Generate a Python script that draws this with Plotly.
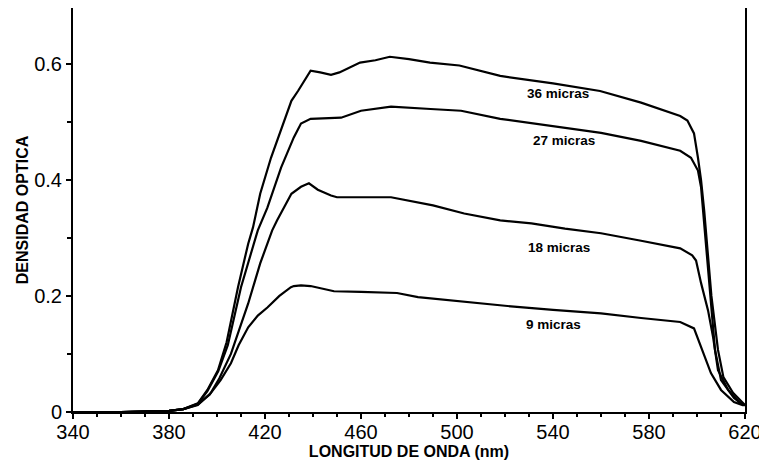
import plotly.graph_objects as go

# 36 micras
wl_36 = [340, 360, 380, 386, 392, 396, 400.4, 404, 408.75, 413, 415, 418, 422.5, 426.7, 431, 433.75,
         439, 443, 447.5, 451, 459.6, 466, 472, 480, 488.75, 501, 518, 540, 559.6, 576.7, 593, 596,
         598.75, 600.4, 601.7, 603, 604.6, 606, 608.75, 611, 615, 619, 620]
od_36 = [0.0, 0.0, 0.002, 0.005, 0.015, 0.038, 0.072, 0.12, 0.215, 0.29, 0.318, 0.376, 0.438, 0.485,
         0.536, 0.553, 0.588, 0.585, 0.581, 0.585, 0.602, 0.606, 0.612, 0.608, 0.602, 0.597, 0.579,
         0.566, 0.553, 0.533, 0.51, 0.502, 0.48, 0.438, 0.399, 0.347, 0.273, 0.2, 0.107, 0.06, 0.033,
         0.015, 0.012]

# 27 micras
wl_27 = [340, 360, 380, 386, 392, 396, 400.5, 404.5, 410, 416, 417, 421, 426.7, 432, 435, 439,
         447.5, 451.7, 460, 472.5, 489, 501.7, 518, 540, 560, 576.7, 593, 597.5, 600.4, 601.7,
         603.5, 605.5, 607.5, 610, 615.4, 619, 620]
od_27 = [0.0, 0.0, 0.002, 0.005, 0.014, 0.036, 0.07, 0.115, 0.215, 0.3, 0.313, 0.352, 0.421, 0.473,
         0.497, 0.505, 0.507, 0.507, 0.519, 0.526, 0.522, 0.519, 0.505, 0.493, 0.481, 0.467, 0.45,
         0.438, 0.416, 0.387, 0.3, 0.2, 0.107, 0.055, 0.024, 0.013, 0.012]

# 18 micras
wl_18 = [340, 360, 380, 386, 392, 397, 401, 405.8, 413, 418, 423, 425, 431, 435, 438.3, 442,
         447.5, 450, 460, 472.5, 490, 503, 518, 531, 545, 560, 576.7, 593, 598, 599.6, 601.7,
         604.6, 606.7, 608.75, 613, 618, 620]
od_18 = [0.0, 0.0, 0.002, 0.005, 0.013, 0.03, 0.058, 0.1, 0.187, 0.256, 0.313, 0.33, 0.376, 0.388,
         0.394, 0.383, 0.373, 0.37, 0.37, 0.37, 0.356, 0.342, 0.33, 0.325, 0.316, 0.308, 0.295,
         0.282, 0.27, 0.261, 0.222, 0.175, 0.129, 0.072, 0.038, 0.015, 0.012]

# 9 micras
wl_9 = [340, 360, 380, 386, 392, 397.5, 401.5, 405.8, 409, 413, 417, 421, 426, 430.8, 432, 435,
        439, 443, 448.75, 460, 475, 483.75, 503, 522.5, 540, 560, 576.7, 593, 598.75, 601.7,
        605.8, 610, 615.4, 619, 620]
od_9 = [0.0, 0.0, 0.002, 0.005, 0.012, 0.033, 0.055, 0.084, 0.115, 0.146, 0.166, 0.18, 0.2, 0.215,
        0.217, 0.218, 0.217, 0.213, 0.208, 0.207, 0.205, 0.198, 0.19, 0.182, 0.176, 0.17, 0.162,
        0.155, 0.144, 0.112, 0.067, 0.038, 0.017, 0.012, 0.012]

series_names = ["36 micras", "27 micras", "18 micras", "9 micras"]
label_x = [542, 544.6, 542.5, 540.4]
label_y = [0.548, 0.468, 0.284, 0.150]

x_ticks = [340, 380, 420, 460, 500, 540, 580, 620]
y_ticks = [0, 0.2, 0.4, 0.6]
y_tick_text = ["0", "0.2", "0.4", "0.6"]

FONT = "Liberation Sans, Arial, Helvetica, sans-serif"

fig = go.Figure()
for wl, od, name in [(wl_36, od_36, series_names[0]), (wl_27, od_27, series_names[1]),
                     (wl_18, od_18, series_names[2]), (wl_9, od_9, series_names[3])]:
    fig.add_trace(go.Scatter(x=wl, y=od, mode="lines", name=name,
                             line=dict(color="black", width=2.2), showlegend=False))

for name, lx, ly in zip(series_names, label_x, label_y):
    fig.add_annotation(x=lx, y=ly, text="<b>" + name + "</b>", showarrow=False,
                       font=dict(family=FONT, size=13.5, color="black"))

# page body has an 8px margin: figure is sized/offset to compensate
fig.update_layout(
    width=759, height=454,
    margin=dict(l=65, r=22, t=0, b=50, autoexpand=False),
    paper_bgcolor="white", plot_bgcolor="white",
    font=dict(family=FONT, color="black"),
)
fig.update_xaxes(
    range=[340, 620], tickvals=x_ticks,
    ticks="outside", ticklen=5, tickwidth=1.5, tickcolor="black",
    minor=dict(dtick=10, ticks="outside", ticklen=3, tickcolor="black"),
    showline=True, linecolor="black", linewidth=2, mirror=True, showgrid=False, zeroline=False,
    tickfont=dict(size=20), automargin=False, ticklabelstandoff=-4,
    title=dict(text="<b>LONGITUD DE ONDA (nm)</b>", font=dict(size=16), standoff=2),
)
fig.update_yaxes(
    range=[0, 0.696], tickvals=y_ticks, ticktext=y_tick_text,
    ticks="outside", ticklen=5, tickwidth=1.5, tickcolor="black",
    minor=dict(tickvals=[0.1, 0.3, 0.5], ticks="outside", ticklen=4, tickcolor="black"),
    showline=True, linecolor="black", linewidth=2, mirror=True, showgrid=False, zeroline=False,
    tickfont=dict(size=20), automargin=False,
    title=dict(text="<b>DENSIDAD OPTICA</b>", font=dict(size=16), standoff=2),
)

fig.write_html("out.html")
